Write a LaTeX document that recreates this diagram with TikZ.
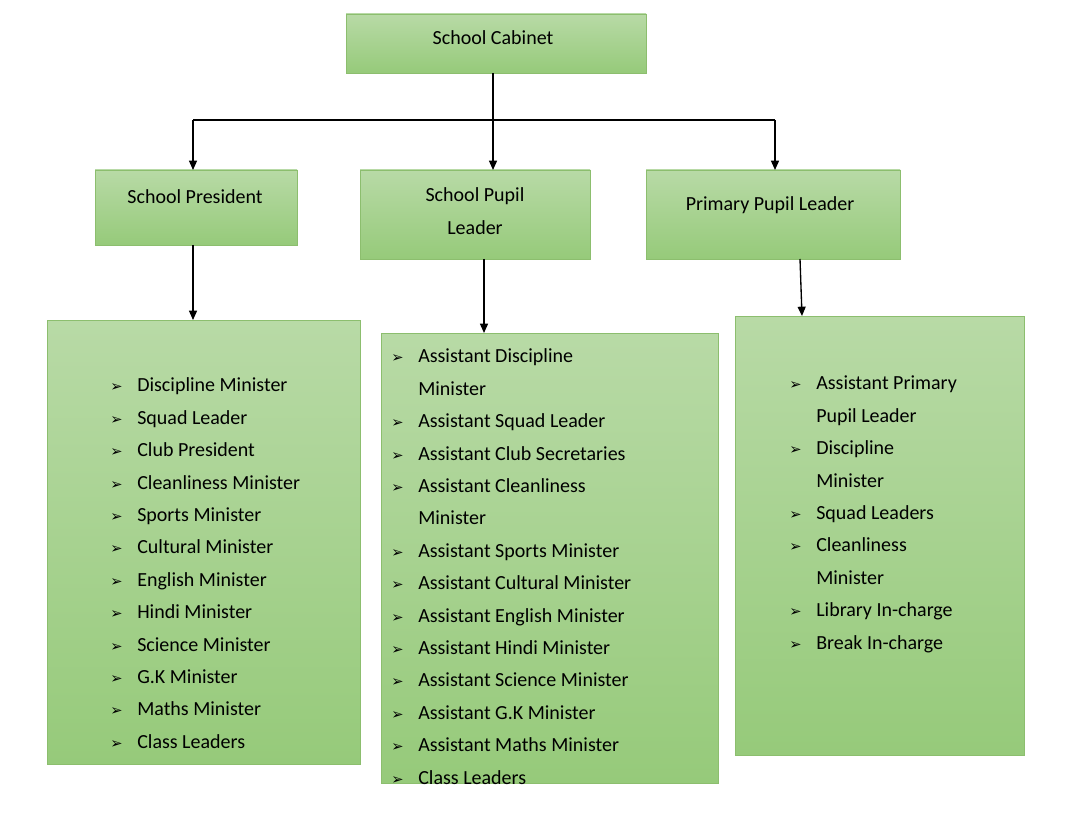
\documentclass[tikz,border=0pt]{standalone}
\usepackage{fontspec}
\setmainfont{Carlito}
\newfontfamily\symf{DejaVu Sans}
\usetikzlibrary{arrows.meta}
\newcommand{\bl}{\makebox[20.25pt][l]{\symf\fontsize{11pt}{11pt}\selectfont ➢}}
\tikzset{
  box/.style={draw=green!45!black!45, line width=0.6pt, top color=green!50!black!10!white!70!green!55, bottom color=green!70!black!25!white!60!green!70},
  box/.style={draw={rgb,255:red,140;green,190;blue,110}, line width=0.6pt, top color={rgb,255:red,184;green,218;blue,166}, bottom color={rgb,255:red,150;green,202;blue,122}},
  lbl/.style={font=\fontsize{15pt}{24.3pt}\selectfont, align=center},
  lst/.style={font=\fontsize{15pt}{24.3pt}\selectfont, inner sep=0pt, anchor=north west},
  arr/.style={-{Triangle[length=7pt,width=6pt]}, line width=1pt}
}
\begin{document}
\begin{tikzpicture}[x=0.75pt,y=-0.75pt]
\useasboundingbox (0,0) rectangle (1080,830);
\fill[white] (0,0) rectangle (1080,830);
\path[box] (346,14) rectangle (646,73);
\path[box] (95,170) rectangle (297,245);
\path[box] (360,170) rectangle (590,259);
\path[box] (646,170) rectangle (900,259);
\path[box] (47,320) rectangle (360,764);
\path[box] (381,333) rectangle (718,783);
\path[box] (735,316) rectangle (1024,755);
\node[lbl] (cab) at (493,38) {School Cabinet};
\node[lbl] (pres) at (195,197) {School President};
\node[lbl] (spl) at (475,211) {School Pupil\\Leader};
\node[lbl] (ppl) at (770,205) {Primary Pupil Leader};
\coordinate (c0) at (493,73);
\coordinate (cl) at (193,120);
\coordinate (cr) at (775,120);
\coordinate (cm) at (493,120);
\draw[line width=1pt] (cl) -- (cr);
\draw[arr] (c0) -- (493,170);
\draw[arr] (cl) -- (193,170);
\draw[arr] (cr) -- (775,170);
\draw[arr] (193,245) -- (193,320);
\draw[arr] (484,259) -- (484,333);
\draw[arr] (800,259) -- (802,316);
\node[lst] (l1) at (110,369) {\begin{tabular}{@{}l@{}l@{}}
\bl&Discipline Minister\\
\bl&Squad Leader\\
\bl&Club President\\
\bl&Cleanliness Minister\\
\bl&Sports Minister\\
\bl&Cultural Minister\\
\bl&English Minister\\
\bl&Hindi Minister\\
\bl&Science Minister\\
\bl&G.K Minister\\
\bl&Maths Minister\\
\bl&Class Leaders
\end{tabular}};
\node[lst] (l2) at (391,340) {\begin{tabular}{@{}l@{}l@{}}
\bl&Assistant Discipline\\
&Minister\\
\bl&Assistant Squad Leader\\
\bl&Assistant Club Secretaries\\
\bl&Assistant Cleanliness\\
&Minister\\
\bl&Assistant Sports Minister\\
\bl&Assistant Cultural Minister\\
\bl&Assistant English Minister\\
\bl&Assistant Hindi Minister\\
\bl&Assistant Science Minister\\
\bl&Assistant G.K Minister\\
\bl&Assistant Maths Minister\\
\bl&Class Leaders
\end{tabular}};
\node[lst] (l3) at (789,367) {\begin{tabular}{@{}l@{}l@{}}
\bl&Assistant Primary\\
&Pupil Leader\\
\bl&Discipline\\
&Minister\\
\bl&Squad Leaders\\
\bl&Cleanliness\\
&Minister\\
\bl&Library In-charge\\
\bl&Break In-charge
\end{tabular}};
\end{tikzpicture}
\end{document}
